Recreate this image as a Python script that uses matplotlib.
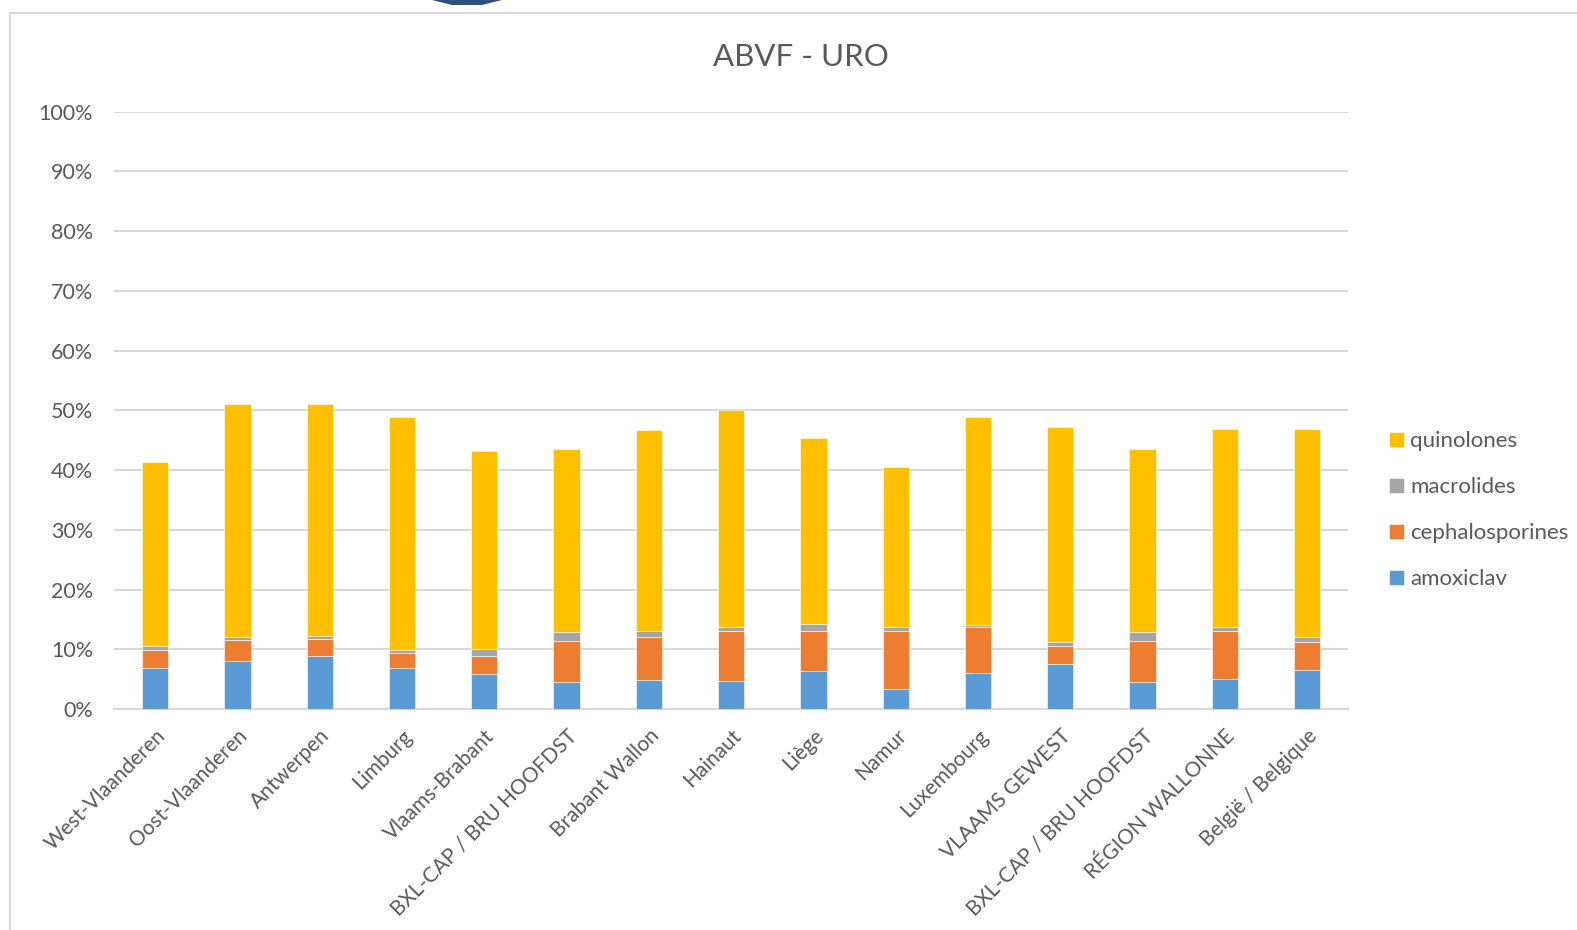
import numpy as np
import matplotlib.pyplot as plt
from matplotlib.patches import Polygon
from matplotlib.lines import Line2D

regions = ['West-Vlaanderen', 'Oost-Vlaanderen', 'Antwerpen', 'Limburg',
           'Vlaams-Brabant', 'BXL-CAP / BRU HOOFDST', 'Brabant Wallon',
           'Hainaut', 'Liège', 'Namur', 'Luxembourg', 'VLAAMS GEWEST',
           'BXL-CAP / BRU HOOFDST', 'RÉGION WALLONNE', 'België / Belgique']

# percentages per segment
amoxiclav = [6.9, 8.0, 8.8, 6.9, 5.9, 4.5, 4.9, 4.7, 6.4, 3.3, 6.0, 7.5, 4.5, 5.1, 6.5]
cephalosporines = [3.0, 3.5, 3.0, 2.5, 3.0, 6.9, 7.2, 8.3, 6.7, 9.7, 7.8, 3.1, 6.9, 7.9, 4.8]
macrolides = [0.7, 0.5, 0.5, 0.5, 1.2, 1.5, 0.9, 0.7, 1.2, 0.7, 0.2, 0.6, 1.5, 0.8, 0.8]
totaal = [41.3, 51.1, 51.0, 48.8, 43.2, 43.5, 46.7, 50.1, 45.3, 40.5, 48.9, 47.2, 43.5, 46.9, 46.9]

quinolones = [t - a - c - m for t, a, c, m in zip(totaal, amoxiclav, cephalosporines, macrolides)]

kleuren = {'amoxiclav': '#5B9BD5', 'cephalosporines': '#ED7D31',
           'macrolides': '#A5A5A5', 'quinolones': '#FFC000'}

plt.rcParams['font.family'] = ['Lato', 'DejaVu Sans']
tekst = '#595959'

fig = plt.figure(figsize=(15.77, 9.30), dpi=100)
ax = fig.add_axes([0.0723, 0.2376, 0.7827, 0.6424])

x = np.arange(len(regions))
breedte = 0.32
onder = np.zeros(len(regions))
reeksen = [('amoxiclav', amoxiclav), ('cephalosporines', cephalosporines),
           ('macrolides', macrolides), ('quinolones', quinolones)]
for naam, waarden in reeksen:
    ax.bar(x, waarden, breedte, bottom=onder, color=kleuren[naam],
           edgecolor='white', linewidth=0.4, label=naam, zorder=3)
    onder = onder + np.array(waarden)

ax.set_xlim(-0.5, len(regions) - 0.5)
ax.set_ylim(0, 100)
ax.set_yticks(np.arange(0, 101, 10))
ax.set_yticklabels([f'{v}%' for v in range(0, 101, 10)], fontsize=15.5, color=tekst)
ax.set_xticks(x)
ax.set_xticklabels(regions, rotation=45, ha='right', rotation_mode='anchor',
                   fontsize=15, color=tekst)
ax.tick_params(axis='both', length=0)
ax.tick_params(axis='y', pad=15)
ax.tick_params(axis='x', pad=12)
ax.grid(axis='y', color='#D9D9D9', linewidth=1.5, zorder=0)
for s in ['top', 'right', 'left']:
    ax.spines[s].set_visible(False)
ax.spines['bottom'].set_color('#D9D9D9')
ax.spines['bottom'].set_linewidth(1.5)

fig.text(801 / 1577, 1 - 57 / 930, 'ABVF - URO', ha='center', va='center',
         fontsize=22.5, color=tekst)

handles, labels = ax.get_legend_handles_labels()
ax.legend(handles[::-1], labels[::-1], loc='center left',
          bbox_to_anchor=(1378 / 1577, 1 - 510 / 930),
          bbox_transform=fig.transFigure, frameon=False, fontsize=16,
          handlelength=0.65, handleheight=0.65, handletextpad=0.3,
          labelspacing=1.17, borderpad=0, labelcolor=tekst)

# chart frame and fragment above it
fig.add_artist(Line2D([10 / 1577, 10 / 1577], [0, 1 - 13 / 930],
                      transform=fig.transFigure, color='#D9D9D9', linewidth=1.5))
fig.add_artist(Line2D([10 / 1577, 1], [1 - 13 / 930, 1 - 13 / 930],
                      transform=fig.transFigure, color='#D9D9D9', linewidth=1.5))
vorm = [(432 / 1577, 1), (502 / 1577, 1), (482 / 1577, 1 - 5 / 930), (452 / 1577, 1 - 5 / 930)]
fig.add_artist(Polygon(vorm, closed=True, transform=fig.transFigure,
                       facecolor='#2E4F7F', edgecolor='none'))

fig.savefig('out.png', dpi=100)
